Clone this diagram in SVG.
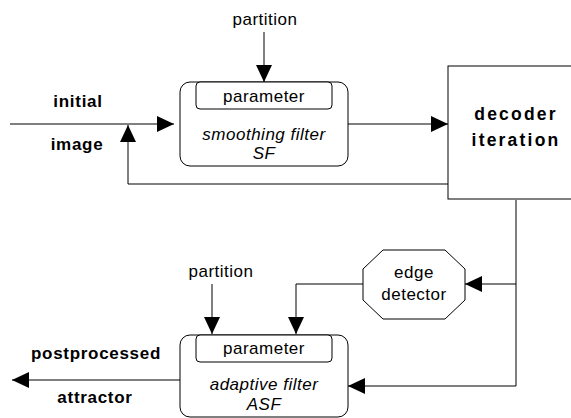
<svg xmlns="http://www.w3.org/2000/svg" width="571" height="418" viewBox="0 0 571 418">
<defs>
<style>
.ln{fill:none;stroke:#000;stroke-width:1}
.shape{fill:#fff;stroke:#000;stroke-width:1}
.t{font-family:"Liberation Sans",Arial,sans-serif;font-size:17px;fill:#000;text-anchor:middle;letter-spacing:0.5px}
.i{font-style:italic}
.b{font-weight:bold;letter-spacing:0.7px}
.big{font-weight:bold;font-size:17.5px;letter-spacing:2.2px}
</style>
<marker id="ah" markerUnits="userSpaceOnUse" markerWidth="17" markerHeight="16" refX="17" refY="8" orient="auto">
<path d="M0,0 L17,8 L0,16 z" fill="#000"/>
</marker>
</defs>
<rect width="571" height="418" fill="#fff"/>

<g id="connectors">
<path class="ln" d="M10,124 H174" marker-end="url(#ah)"/>
<path class="ln" d="M264,32 V82" marker-end="url(#ah)"/>
<path class="ln" d="M348,124 H448" marker-end="url(#ah)"/>
<path class="ln" d="M448,184 H128 V125" marker-end="url(#ah)"/>
<path class="ln" d="M516,200 V386 H348" marker-end="url(#ah)"/>
<path class="ln" d="M516,284 H465" marker-end="url(#ah)"/>
<path class="ln" d="M363,284 H296 V334" marker-end="url(#ah)"/>
<path class="ln" d="M212,284 V334" marker-end="url(#ah)"/>
<path class="ln" d="M180,380 H12" marker-end="url(#ah)"/>
</g>

<g id="labels">
<text class="t" x="265" y="25">partition</text>
<text class="t b" x="78" y="107">initial</text>
<text class="t b" x="77" y="150">image</text>
<text class="t" x="221" y="277">partition</text>
<text class="t b" x="96" y="359">postprocessed</text>
<text class="t b" x="95" y="403">attractor</text>
</g>

<g id="sf">
<rect class="shape" x="180" y="82" width="168" height="84" rx="10"/>
<rect class="shape" x="196" y="82" width="136" height="27" rx="4"/>
<text class="t" x="264" y="102">parameter</text>
<text class="t i" x="264" y="140">smoothing filter</text>
<text class="t i" x="264" y="159">SF</text>
</g>

<g id="decoder">
<rect class="shape" x="448" y="66" width="140" height="133"/>
<text class="t big" x="516" y="120">decoder</text>
<text class="t big" x="516" y="146">iteration</text>
</g>

<g id="edge">
<polygon class="shape" points="383,250 445,250 465,269 465,300 445,319 383,319 363,300 363,269"/>
<text class="t" x="414" y="278">edge</text>
<text class="t" x="414" y="300">detector</text>
</g>

<g id="asf">
<rect class="shape" x="180" y="335" width="168" height="82" rx="10"/>
<rect class="shape" x="196" y="335" width="136" height="27" rx="4"/>
<text class="t" x="264" y="354">parameter</text>
<text class="t i" x="264" y="390">adaptive filter</text>
<text class="t i" x="264" y="410">ASF</text>
</g>
</svg>
